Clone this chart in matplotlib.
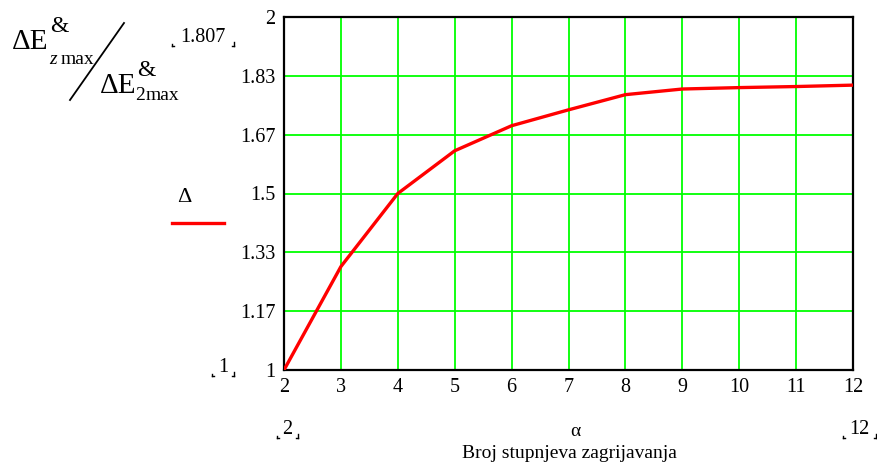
import matplotlib
matplotlib.use('Agg')
import matplotlib.pyplot as plt
from matplotlib.lines import Line2D

# number of heating stages vs. relative max exergy loss
alpha = [2, 3, 4, 5, 6, 7, 8, 9, 10, 11, 12]
ratio = [1.0, 1.293, 1.5, 1.621, 1.692, 1.737, 1.780, 1.796, 1.800, 1.803, 1.807]

y_ticks = [1.0, 7 / 6, 8 / 6, 1.5, 10 / 6, 11 / 6, 2.0]
y_tick_labels = ['1', '1.17', '1.33', '1.5', '1.67', '1.83', '2']
x_ticks = list(range(2, 13))

W, H = 878, 468
plt.rcParams['font.family'] = ['Liberation Serif', 'DejaVu Serif']

fig = plt.figure(figsize=(W / 100, H / 100), dpi=100)
ax = fig.add_axes([284 / W, 1 - 370 / H, (853 - 284) / W, (370 - 17) / H])

ax.plot(alpha, ratio, color='#ff0000', lw=2.4, solid_joinstyle='round', zorder=3)

ax.set_xlim(2, 12)
ax.set_ylim(1, 2)
ax.set_xticks(x_ticks)
ax.set_xticklabels([str(v) for v in x_ticks])
ax.set_yticks(y_ticks)
ax.set_yticklabels(y_tick_labels)
ax.grid(True, color='#00ff00', lw=1.3)
ax.tick_params(length=0, labelsize=14.5, pad=6)
for sp in ax.spines.values():
    sp.set_linewidth(1.6)
    sp.set_color('black')


def px(x, y):
    return x / W, 1 - y / H


def txt(x, y, s, size=14, **kw):
    fx, fy = px(x, y)
    fig.text(fx, fy, s, fontsize=size, ha=kw.pop('ha', 'center'),
             va=kw.pop('va', 'center'), **kw)


def line(x0, y0, x1, y1, **kw):
    (a, b), (c, d) = px(x0, y0), px(x1, y1)
    fig.add_artist(Line2D([a, c], [b, d], transform=fig.transFigure, **kw))


def placeholder(x0, x1, y, s):
    # value field with small corner marks
    txt((x0 + x1) / 2, y, s, size=14.5)
    line(x0, y + 8, x0, y + 6, color='black', lw=1)
    line(x0, y + 8, x0 + 2, y + 8, color='black', lw=1)
    line(x1, y + 8, x1, y + 4, color='black', lw=1)
    line(x1, y + 8, x1 - 2, y + 8, color='black', lw=1)


# y-axis label: dE_z max / dE_2 max
txt(12, 42, '\u0394E', size=21, ha='left')
txt(50, 27, '&', size=17, ha='left')
txt(49, 59, 'z', size=14, ha='left', style='italic')
txt(61, 59, 'max', size=14, ha='left')
line(70, 100, 124, 23, color='black', lw=1.3)
txt(100, 86, '\u0394E', size=21, ha='left')
txt(137, 71, '&', size=17, ha='left')
txt(135, 95, '2', size=14, ha='left')
txt(146, 95, 'max', size=14, ha='left')

placeholder(172, 234, 38, '1.807')
placeholder(212, 234, 368, '1')
placeholder(277, 298, 430, '2')
placeholder(843, 876, 430, '12')

# legend trace
txt(184, 197, '\u0394', size=16)
line(172, 223, 224, 223, color='#ff0000', lw=2.4)

txt(575, 431, '\u03b1', size=14)
txt(569, 453, 'Broj stupnjeva zagrijavanja', size=14)

fig.savefig('out.png', dpi=100)
